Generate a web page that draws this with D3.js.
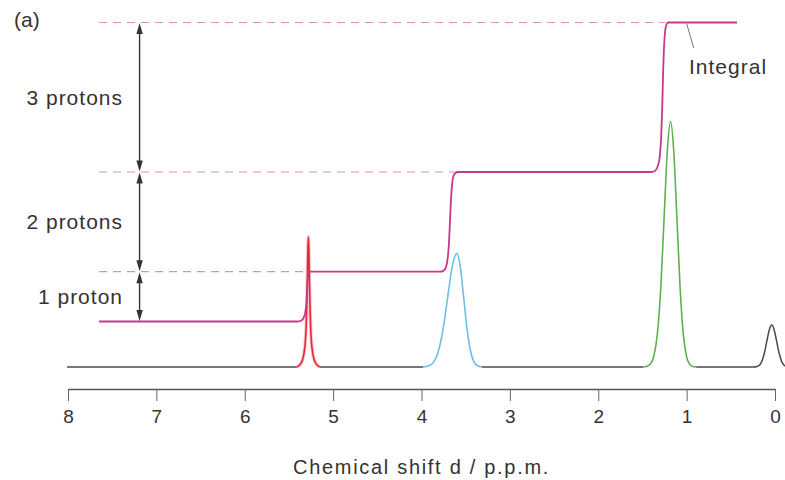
<!DOCTYPE html>
<html>
<head>
<meta charset="utf-8">
<script src="https://cdn.jsdelivr.net/npm/d3@7"></script>
<style>
  html, body { margin: 0; padding: 0; background: #fff; }
  svg { display: block; }
  text { font-family: "Liberation Sans", Arial, Helvetica, sans-serif; fill: #333; }
</style>
</head>
<body>
<svg id="chart" width="785" height="480"></svg>
<script>
// ---------- data ----------
const tickValues = [8, 7, 6, 5, 4, 3, 2, 1, 0];
const axisTitle = "Chemical shift d / p.p.m.";
const panelLabel = "(a)";

// peaks: [chemical shift (ppm), intensity]
const redPeak = [[5.41,0],[5.38,0.8],[5.35,2.5],[5.33,5.5],[5.315,10.1],[5.305,16.8],[5.297,26.5],[5.29,39.4],[5.285,48.8],[5.28,53],
                 [5.275,48.8],[5.27,39.4],[5.263,26.5],[5.255,16.8],[5.245,10.1],[5.23,5.5],[5.21,2.5],[5.18,0.8],[5.15,0]];
const bluePeak = [[3.98,0],[3.915,0.5],[3.863,2.0],[3.81,6.3],[3.758,15.0],[3.705,28.1],[3.653,40.8],[3.60,46.3],
                  [3.561,40.8],[3.522,28.1],[3.483,15.0],[3.444,6.3],[3.405,2.0],[3.366,0.5],[3.32,0]];
const greenPeak = [[1.49,0],[1.45,0.3],[1.41,1.2],[1.37,4.6],[1.33,13.8],[1.292,32.5],[1.255,60.7],[1.218,88.2],[1.182,100],
                   [1.146,88.2],[1.110,60.7],[1.074,32.5],[1.038,13.5],[1.002,4.4],[0.966,1.1],[0.930,0.2],[0.892,0]];
const tmsPeak = [[0.24,0],[0.205,0.2],[0.177,0.75],[0.149,2.3],[0.121,5.6],[0.093,10.4],[0.065,15.1],[0.037,17.1],
                 [0.009,15.1],[-0.019,10.4],[-0.047,5.6],[-0.075,2.3],[-0.103,0.75],[-0.131,0.2],[-0.16,0]];
const baselineStart = 8.01;

// integral trace: [ppm, protons]
const integral = [[7.649,0],[5.40,0],[5.36,0.02],[5.335,0.07],[5.318,0.16],[5.305,0.32],[5.296,0.55],[5.288,0.8],[5.282,0.95],[5.278,1.0],[5.25,1.0],
                  [3.78,1.0],[3.75,1.02],[3.725,1.08],[3.705,1.25],[3.69,1.55],[3.678,2.0],[3.666,2.45],[3.654,2.75],[3.638,2.92],[3.615,2.98],[3.59,3.0],
                  [1.40,3.0],[1.36,3.02],[1.33,3.1],[1.305,3.3],[1.288,3.7],[1.276,4.3],[1.266,5.0],[1.256,5.5],[1.245,5.8],[1.23,5.95],[1.21,6.0],[0.43,6.0]];

// guide levels (protons) and where their dashed lines stop (ppm)
const guideLevels = [1, 3, 6];
const guideEnds = [5.28, 3.62, 1.24];
const guideStart = 7.649;

// proton-count annotations
const spanLow = [0, 1, 3];
const spanHigh = [1, 3, 6];
const spanLabels = ["1 proton", "2 protons", "3 protons"];
const arrowPpm = 7.19;

const integralLabel = "Integral";

// ---------- drawing ----------
const svg = d3.select("#chart");
svg.append("rect").attr("width", 785).attr("height", 480).attr("fill", "#fff");

const x = d3.scaleLinear().domain([8, 0]).range([68, 775]);
const y = d3.scaleLinear().domain([0, 100]).range([367, 121.5]);
const yInt = d3.scaleLinear().domain([0, 6]).range([321.5, 22.5]);

const line = d3.line().x(d => x(d[0])).y(d => y(d[1])).curve(d3.curveMonotoneX);
const intLine = d3.line().x(d => x(d[0])).y(d => yInt(d[1])).curve(d3.curveMonotoneX);

// baseline / gray segments
const colored = [
  {pts: redPeak, color: "#e4283a"},
  {pts: bluePeak, color: "#6ebfe8"},
  {pts: greenPeak, color: "#5fb04f"}
];
const graySegs = [];
let prev = baselineStart;
colored.forEach(p => {
  graySegs.push([[prev, 0], [p.pts[0][0], 0]]);
  prev = p.pts[p.pts.length - 1][0];
});
graySegs.push([[prev, 0]].concat(tmsPeak));

svg.append("g").selectAll("path").data(graySegs).join("path")
  .attr("d", line).attr("fill", "none").attr("stroke", "#4a4a4a").attr("stroke-width", 1.5);

// red glow
svg.append("path").datum(redPeak).attr("d", line).attr("fill", "none")
  .attr("stroke", "#f4a0a8").attr("stroke-width", 3.5).attr("opacity", 0.6);

svg.append("g").selectAll("path").data(colored).join("path")
  .attr("d", d => line(d.pts)).attr("fill", "none").attr("stroke", d => d.color).attr("stroke-width", 1.6);

// dashed guides
svg.append("g").selectAll("line").data(guideLevels).join("line")
  .attr("x1", x(guideStart)).attr("x2", (d, i) => x(guideEnds[i]))
  .attr("y1", d => yInt(d)).attr("y2", d => yInt(d))
  .attr("stroke", "#dd8fb0").attr("stroke-width", 1.2).attr("stroke-dasharray", "8,6");

// integral
svg.append("path").datum(integral).attr("d", intLine).attr("fill", "none")
  .attr("stroke", "#c7398a").attr("stroke-width", 1.8);

// arrows
const ax = x(arrowPpm);
const ag = svg.append("g");
spanLow.forEach((lo, i) => {
  const hi = spanHigh[i];
  const yTop = yInt(hi) + 0.5, yBot = yInt(lo) - 0.5;
  ag.append("line").attr("x1", ax).attr("x2", ax).attr("y1", yTop + 4).attr("y2", yBot - 4)
    .attr("stroke", "#333").attr("stroke-width", 1.4);
  ag.append("path").attr("d", `M${ax},${yTop} L${ax - 3.2},${yTop + 11} L${ax + 3.2},${yTop + 11} Z`).attr("fill", "#333");
  ag.append("path").attr("d", `M${ax},${yBot} L${ax - 3.2},${yBot - 11} L${ax + 3.2},${yBot - 11} Z`).attr("fill", "#333");
  svg.append("text").attr("x", 123).attr("y", (yInt(lo) + yInt(hi)) / 2 + 7.5)
    .attr("text-anchor", "end").style("font-size", "21px").style("letter-spacing", "1px")
    .text(spanLabels[i]);
});

// panel label
svg.append("text").attr("x", 14).attr("y", 27).style("font-size", "21px").text(panelLabel);

// integral label + leader
svg.append("line").attr("x1", x(1.0)).attr("y1", yInt(6) + 1).attr("x2", x(0.92)).attr("y2", 48)
  .attr("stroke", "#777").attr("stroke-width", 1);
svg.append("text").attr("x", 689).attr("y", 74).style("font-size", "21px").style("letter-spacing", "1px")
  .text(integralLabel);

// axis
const axis = d3.axisBottom(x).tickValues(tickValues).tickFormat(d3.format("d"))
  .tickSize(12).tickSizeOuter(0).tickPadding(9);
const gA = svg.append("g").attr("transform", "translate(0,389)").call(axis);
gA.select(".domain").attr("stroke", "#555").attr("stroke-width", 1.6);
gA.selectAll(".tick line").attr("stroke", "#666").attr("stroke-width", 1);
gA.selectAll(".tick text").style("font-size", "19px").style("font-family", "'Liberation Sans', Arial, sans-serif")
  .attr("fill", "#333");

svg.append("text").attr("x", (x(8) + x(0)) / 2).attr("y", 474).attr("text-anchor", "middle")
  .style("font-size", "20px").style("letter-spacing", "1.7px").text(axisTitle);
</script>
</body>
</html>
